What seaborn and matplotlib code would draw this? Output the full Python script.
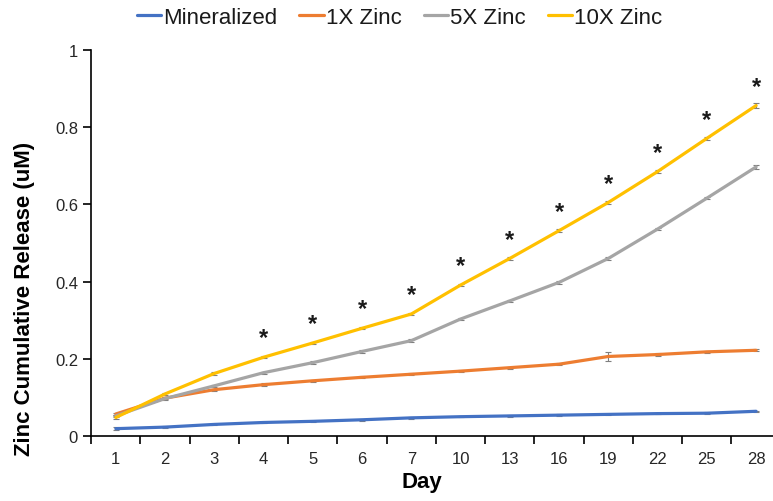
import numpy as np
import pandas as pd
import seaborn as sns
import matplotlib.pyplot as plt

# Data
days = ['1', '2', '3', '4', '5', '6', '7', '10', '13', '16', '19', '22', '25', '28']
mineralized = [0.019, 0.023, 0.030, 0.035, 0.038, 0.042, 0.047, 0.050, 0.052, 0.054, 0.056, 0.058, 0.059, 0.064]
zinc_1x = [0.057, 0.098, 0.120, 0.133, 0.143, 0.152, 0.160, 0.168, 0.177, 0.186, 0.206, 0.211, 0.218, 0.222]
zinc_5x = [0.052, 0.097, 0.130, 0.164, 0.190, 0.219, 0.247, 0.303, 0.350, 0.398, 0.460, 0.536, 0.616, 0.697]
zinc_10x = [0.048, 0.109, 0.162, 0.204, 0.241, 0.279, 0.316, 0.391, 0.460, 0.532, 0.605, 0.685, 0.771, 0.856]
err_min = [0.004, 0.002, 0.002, 0.002, 0.002, 0.002, 0.002, 0.002, 0.002, 0.002, 0.002, 0.002, 0.002, 0.002]
err_1x = [0.003, 0.003, 0.003, 0.003, 0.003, 0.003, 0.003, 0.003, 0.003, 0.003, 0.012, 0.003, 0.003, 0.003]
err_5x = [0.003, 0.003, 0.003, 0.003, 0.003, 0.003, 0.003, 0.003, 0.003, 0.003, 0.003, 0.003, 0.003, 0.006]
err_10x = [0.003, 0.003, 0.003, 0.003, 0.003, 0.003, 0.003, 0.003, 0.003, 0.003, 0.003, 0.004, 0.004, 0.007]
star_days = ['4', '5', '6', '7', '10', '13', '16', '19', '22', '25', '28']

series = ['Mineralized', '1X Zinc', '5X Zinc', '10X Zinc']
colors = ['#4472C4', '#ED7D31', '#A5A5A5', '#FFC000']

df = pd.DataFrame({
    'Day': days * 4,
    'Release': mineralized + zinc_1x + zinc_5x + zinc_10x,
    'Error': err_min + err_1x + err_5x + err_10x,
    'Group': [s for s in series for _ in days],
})

sns.set_style('ticks')
plt.rcParams['font.family'] = ['Liberation Sans', 'DejaVu Sans']
plt.rcParams['text.color'] = '#1a1a1a'
plt.rcParams['axes.labelcolor'] = 'black'
plt.rcParams['axes.edgecolor'] = 'black'
plt.rcParams['xtick.color'] = 'black'
plt.rcParams['ytick.color'] = 'black'

fig = plt.figure(figsize=(7.73, 5.02), dpi=100)
ax = fig.add_axes([0.118, 0.1295, 0.892, 0.769])

sns.lineplot(data=df, x='Day', y='Release', hue='Group', hue_order=series,
             palette=colors, linewidth=2.3, ax=ax, legend=True)

# small error bars
for name, col in zip(series, colors):
    sub = df[df['Group'] == name]
    ax.errorbar(sub['Day'], sub['Release'], yerr=sub['Error'], fmt='none',
                ecolor='#7f7f7f', elinewidth=0.8, capsize=2.5, capthick=0.8, zorder=1)

# significance asterisks above 10X Zinc
y10 = dict(zip(days, zinc_10x))
for d in star_days:
    ax.text(days.index(d), y10[d] + 0.05, '*', ha='center', va='center',
            fontsize=17, fontweight='bold', color='#1a1a1a')

ax.set_xlim(-0.5, len(days) - 0.5)
ax.set_ylim(0, 1)
ax.set_yticks([0, 0.2, 0.4, 0.6, 0.8, 1.0])
ax.set_yticklabels(['0', '0.2', '0.4', '0.6', '0.8', '1'])
ax.set_xticks(np.arange(-0.5, len(days), 1), minor=True)
ax.tick_params(axis='x', which='major', length=0, labelsize=12, pad=11, labelcolor='#262626')
ax.tick_params(axis='x', which='minor', length=6, width=1.2)
ax.tick_params(axis='y', length=6, width=1.2, labelsize=12, labelcolor='#262626')
for sp in ['top', 'right']:
    ax.spines[sp].set_visible(False)
for sp in ['left', 'bottom']:
    ax.spines[sp].set_linewidth(1.2)

ax.set_xlabel('Day', fontsize=16, fontweight='bold')
ax.set_ylabel('Zinc Cumulative Release (uM)', fontsize=16, fontweight='bold')
ax.xaxis.set_label_coords(0.479, -0.09)
ax.yaxis.set_label_coords(-0.082, 0.357)

handles, labels = ax.get_legend_handles_labels()
ax.legend(handles, labels, loc='center', bbox_to_anchor=(0.517, 0.964),
          bbox_transform=fig.transFigure, ncol=4, frameon=False, fontsize=16,
          handlelength=1.1, handletextpad=0.08, columnspacing=1.0,
          borderpad=0, borderaxespad=0)

plt.savefig('out.png', dpi=100)
